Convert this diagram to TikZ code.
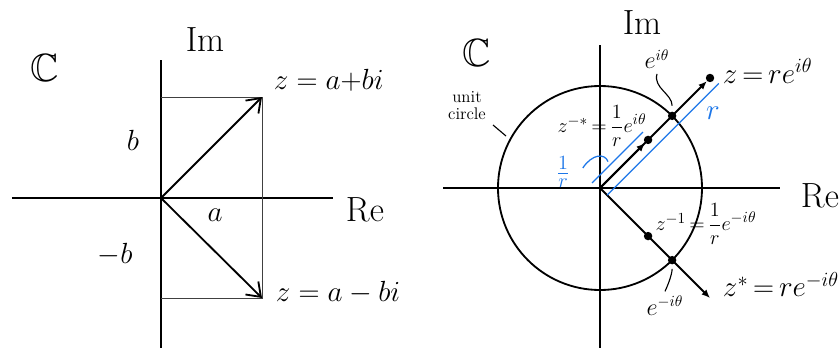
\documentclass[tikz,border=0pt]{standalone}
\usepackage{amssymb}
\usetikzlibrary{arrows.meta,calc}

\definecolor{penblue}{RGB}{28,118,232}

\tikzset{
  axis/.style={line width=1.3pt},
  guide/.style={line width=0.4pt,black!75},
  barb/.style={line width=1.3pt,-{Straight Barb[length=9pt,width=13pt]}},
  tip/.style={line width=1.3pt,-{Latex[length=6pt,width=5pt]}},
  dot/.style={circle,fill,inner sep=0pt,minimum size=6pt},
  penmark/.style={penblue,line width=0.9pt},
  leader/.style={line width=0.8pt},
  bigtxt/.style={font=\fontsize{28}{30}\selectfont},
  midtxt/.style={font=\fontsize{20}{22}\selectfont},
  smalltxt/.style={font=\fontsize{16}{17}\selectfont},
  fractxt/.style={font=\fontsize{15}{16}\selectfont,inner sep=1pt},
  polartxt/.style={font=\fontsize{21}{23}\selectfont,anchor=base west},
}

\begin{document}
\begin{tikzpicture}
\useasboundingbox (0,0) rectangle (21,8.675);

% ---------- left plane: z and its mirror image ----------
\begin{scope}[shift={(4.025,3.725)}]
  % axes
  \draw[axis] (-3.725,0) -- (4.3,0);
  \draw[axis] (0,-3.8) -- (0,3.45);
  \coordinate (O1) at (0,0);
  \coordinate (za) at (2.525,2.525);
  \coordinate (zb) at (2.525,-2.5);
  \coordinate (ya) at (0,2.525);
  \coordinate (yb) at (0,-2.5);
  % projections onto the axes
  \draw[guide] (ya) -- (za) -- (zb) -- (yb);
  \draw[barb] (O1) -- (za);
  \draw[barb] (O1) -- (zb);
  % labels
  \node[bigtxt] (C1) at (-2.9,3.25) {$\mathbb{C}$};
  \node[bigtxt] (Im1) at (1.1,3.95) {$\mathrm{Im}$};
  \node[bigtxt] (Re1) at (5.1,-0.3) {$\mathrm{Re}$};
  \node[midtxt] (lb) at (-0.7,1.45) {$b$};
  \node[midtxt] (la) at (1.35,-0.425) {$a$};
  \node[midtxt] (lmb) at (-1.15,-1.425) {$-b$};
  \node[midtxt,anchor=west] (lza) at (2.7,2.95) {$z=a{+}bi$};
  \node[midtxt,anchor=west] (lzb) at (2.75,-2.375) {$z = a - bi$};
\end{scope}

% ---------- right plane: polar form on the unit circle ----------
\begin{scope}[shift={(15,3.975)}]
  % axes and unit circle
  \draw[axis] (-3.925,0) -- (4.5,0);
  \draw[axis] (0,-4) -- (0,3.575);
  \coordinate (O2) at (0,0);
  \draw[axis] (O2) circle (2.55);
  % points along the two rays
  \coordinate (zs) at (-45:3.89);
  \node[dot] (z) at (45:3.89) {};
  \node[dot] (zi) at (45:1.7) {};
  \node[dot] (u) at (45:2.55) {};
  \node[dot] (zinv) at (-45:1.7) {};
  \node[dot] (us) at (-45:2.55) {};
  \draw[tip] (O2) -- (z);
  \draw[tip] (O2) -- (zi);
  \draw[tip] (O2) -- (zs);
  % lengths 1/r and r
  \coordinate (pa) at ($(135:0.23)+(45:-0.05)$);
  \coordinate (pb) at ($(135:0.23)+(45:1.75)$);
  \coordinate (qa) at (-45:0.25);
  \coordinate (qb) at ($(-45:0.25)+(45:3.95)$);
  \draw[penmark] (pa) -- (pb);
  \draw[penmark] (qa) -- (qb);
  \draw[penmark] (-0.43,0.5) .. controls (-0.2,0.85) and (0.12,0.88) .. (0.2,0.66);
  \node[penblue,font=\fontsize{19}{20}\selectfont,inner sep=1pt] (linv) at (-0.925,0.4) {$\frac{1}{r}$};
  \node[penblue,midtxt] (lr) at (2.825,1.88) {$r$};
  % labels
  \node[bigtxt] (C2) at (-3.075,3.375) {$\mathbb{C}$};
  \node[bigtxt] (Im2) at (1.05,4.125) {$\mathrm{Im}$};
  \node[bigtxt,anchor=west] (Re2) at (4.9,-0.2) {$\mathrm{Re}$};
  \node[font=\fontsize{12}{12}\selectfont,align=center] (lunit) at (-3.325,2.05) {unit\\circle};
  \draw[leader] (-2.675,1.575) -- (-2.35,1.3);
  \node[smalltxt] (leu) at (1.425,3.22) {$e^{i\theta}$};
  \draw[leader] (leu.south) .. controls +(-0.1,-0.35) and +(0,0.3) .. ([yshift=4pt]u.north);
  \node[smalltxt] (leus) at (1.625,-2.95) {$e^{-i\theta}$};
  \draw[leader] ([yshift=-3pt]us.south) .. controls +(0,-0.15) and +(0.05,0.1) .. (leus.north);
  \node[fractxt] (lzi) at (0.05,1.55) {$z^{-*} \,{=}\, \displaystyle\frac{1}{r}e^{i\theta}$};
  \node[fractxt] (lzinv) at (2.65,-0.9) {$z^{-1} \,{=}\, \displaystyle\frac{1}{r}e^{-i\theta}$};
  \node[polartxt] (lz) at (2.95,2.62) {$z\,{=}\,re^{i\theta}$};
  \node[polartxt] (lzs) at (2.95,-2.72) {$z^{*}\,{=}\,re^{-i\theta}$};
\end{scope}
\end{tikzpicture}
\end{document}
